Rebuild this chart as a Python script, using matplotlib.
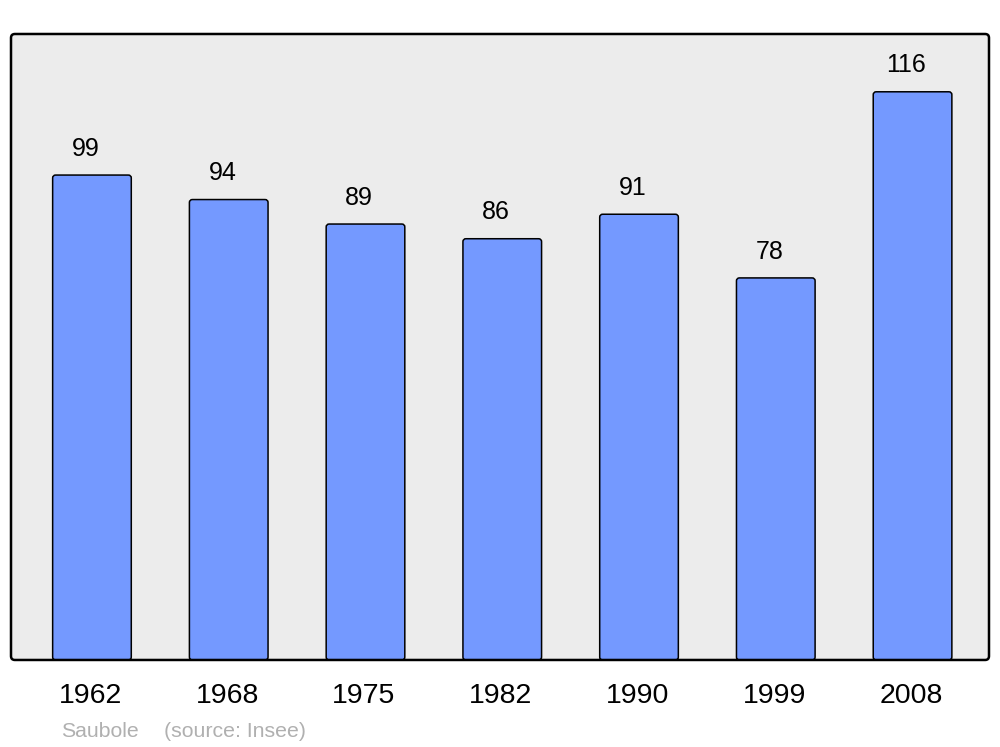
import matplotlib
matplotlib.use("Agg")
import matplotlib.pyplot as plt
from matplotlib.patches import FancyBboxPatch
from matplotlib.transforms import ScaledTranslation

years = ["1962", "1968", "1975", "1982", "1990", "1999", "2008"]
population = [99, 94, 89, 86, 91, 78, 116]

plt.rcParams["font.family"] = ["Liberation Sans", "DejaVu Sans"]

fig = plt.figure(figsize=(10, 7.47), dpi=100)
ax = fig.add_axes([0.011, 0.1165, 0.978, 0.838])
ax.set_xlim(-0.592, 6.559)
ax.set_ylim(0, 127.8)
ax.patch.set_visible(False)
for s in ax.spines.values():
    s.set_visible(False)

# rounded frame: fill below bars, edge above
box = dict(boxstyle="round,pad=0,rounding_size=0.004", mutation_aspect=978 / 626,
           transform=ax.transAxes, clip_on=False)
ax.add_patch(FancyBboxPatch((0, 0), 1, 1, facecolor="#ececec", edgecolor="none",
                            zorder=0, **box))
ax.add_patch(FancyBboxPatch((0, 0), 1, 1, facecolor="none", edgecolor="black",
                            linewidth=1.8, zorder=3, **box))

x = list(range(len(years)))
bars = ax.bar(x, population, width=0.575, color="#7499ff")
for b in bars:
    b.set_visible(False)
    rb = FancyBboxPatch((b.get_x(), b.get_y()), b.get_width(), b.get_height(),
                        boxstyle="round,pad=0,rounding_size=0.022",
                        mutation_aspect=27, facecolor="#7499ff",
                        edgecolor="black", linewidth=1.1, zorder=2)
    ax.add_patch(rb)

for xi, v in zip(x, population):
    ax.annotate(str(v), (xi, v), xytext=(-4.5, 19), textcoords="offset points",
                ha="center", va="center", fontsize=18)

ax.set_yticks([])
ax.set_xticks(x)
ax.set_xticklabels(years, fontsize=20.5)
ax.tick_params(axis="x", length=0, pad=16.5)
shift = ScaledTranslation(-1.5 / 100, 0, fig.dpi_scale_trans)
for lbl in ax.get_xticklabels():
    lbl.set_transform(lbl.get_transform() + shift)

fig.text(0.061, 0.021, "Saubole", color="#b0b0b0", fontsize=15.3, va="center", ha="left")
fig.text(0.164, 0.021, "(source: Insee)", color="#b0b0b0", fontsize=15.3, va="center", ha="left")

fig.savefig("out.png", dpi=100)
